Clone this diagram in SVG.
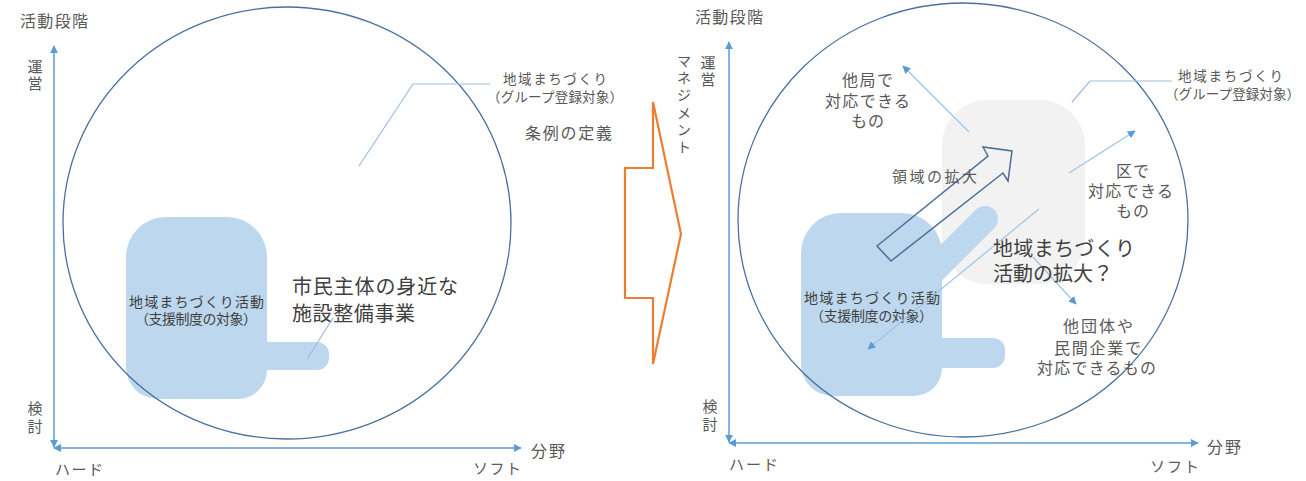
<svg xmlns="http://www.w3.org/2000/svg" width="1306" height="481" viewBox="0 0 1306 481">
<style>
text{font-family:"Noto Sans CJK JP","Noto Sans CJK SC",sans-serif;dominant-baseline:central;fill:#595959}
.s13{font-size:13.5px}.s14{font-size:14px}.s15{font-size:15px}.s16{font-size:16px}.s20{font-size:20px;fill:#404040}
.dk{fill:#404040}
.mid{text-anchor:middle}
.axis{stroke:#5B9BD5;stroke-width:1.5;fill:none}
.ell{stroke:#4A70A0;stroke-width:1.3;fill:none}
.lead{stroke:#9DBDE0;stroke-width:1.2;fill:none}
.conn{stroke:#9DC3E6;stroke-width:1.2;fill:none}
.blob{fill:#BDD7EE}
</style>
<defs>
<marker id="ah" viewBox="0 0 10 10" refX="9" refY="5" markerWidth="8" markerHeight="8" markerUnits="userSpaceOnUse" orient="auto-start-reverse"><path d="M0,0 L10,5 L0,10 Z" fill="#5B9BD5"/></marker>
<marker id="ahs" viewBox="0 0 10 10" refX="9" refY="5" markerWidth="8" markerHeight="8" markerUnits="userSpaceOnUse" orient="auto"><path d="M0,0 L10,5 L0,10 Z" fill="#5B9BD5"/></marker>
</defs>

<!-- LEFT PANEL -->
<g id="left-shapes">
<path class="blob" d="M126,257 A40,40 0 0 1 166,217 L227,217 A40,40 0 0 1 267,257 L267,342 L317,342 A12,12 0 0 1 329,354 L329,358 A12,12 0 0 1 317,370 L267,370 A29,29 0 0 1 238,399 L158,399 A32,32 0 0 1 126,367 Z"/>
<ellipse class="ell" cx="287" cy="223" rx="224" ry="216"/>
</g>
<g id="left-axes">
<line class="axis" x1="54" y1="447" x2="54" y2="46" marker-start="url(#ah)" marker-end="url(#ah)"/>
<line class="axis" x1="54" y1="448" x2="521" y2="448" marker-start="url(#ah)" marker-end="url(#ah)"/>
</g>
<g id="left-labels">
<text class="s16" x="20" y="20" textLength="68">活動段階</text>
<text class="s15 mid" x="35" y="65">運</text>
<text class="s15 mid" x="35" y="82">営</text>
<text class="s15 mid" x="35" y="407">検</text>
<text class="s15 mid" x="35" y="425">討</text>
<text class="s16" x="531" y="450" textLength="34">分野</text>
<text class="s15" x="55" y="468" textLength="48">ハード</text>
<text class="s15" x="473" y="467" textLength="48">ソフト</text>
</g>
<g id="left-group-label">
<text class="s13" x="503" y="78" textLength="104">地域まちづくり</text>
<text class="s13" x="487" y="96" textLength="136">（グループ登録対象）</text>
<text class="s16" x="525" y="132" textLength="87">条例の定義</text>
</g>
<g id="left-support">
<text class="s14 dk" x="129" y="301" textLength="135">地域まちづくり活動</text>
<text class="s14 dk" x="135" y="318" textLength="122">（支援制度の対象）</text>
</g>
<g id="left-citizen">
<text class="s20" x="292" y="285" textLength="166">市民主体の身近な</text>
<text class="s20" x="292" y="312" textLength="123">施設整備事業</text>
</g>
<g id="left-connectors">
<polyline class="lead" points="490,84 413,84 359,166"/>
<line class="lead" x1="307" y1="359" x2="333" y2="318"/>
</g>

<!-- TRANSITION ARROW -->
<g id="transition">
<polygon points="625,168 653,168 653,102 681,234 653,364 653,298 625,298" fill="none" stroke="#ED7D31" stroke-width="2.2" stroke-linejoin="miter"/>
</g>

<!-- RIGHT PANEL -->
<g id="right-shapes">
<rect x="942" y="100" width="143" height="184" rx="45" ry="45" fill="#F2F2F2"/>
<line x1="932" y1="272" x2="985" y2="219" stroke="#BDD7EE" stroke-width="26" stroke-linecap="round"/>
<path class="blob" d="M801,253 A40,40 0 0 1 841,213 L902,213 A40,40 0 0 1 942,253 L942,338 L993,338 A12,12 0 0 1 1005,350 L1005,356 A12,12 0 0 1 993,368 L942,368 A28,28 0 0 1 914,396 L833,396 A32,32 0 0 1 801,364 Z"/>
<ellipse class="ell" cx="963" cy="220" rx="225" ry="217"/>
</g>
<g id="right-axes">
<line class="axis" x1="729" y1="442" x2="729" y2="42" marker-start="url(#ah)" marker-end="url(#ah)"/>
<line class="axis" x1="729" y1="443" x2="1198" y2="443" marker-start="url(#ah)" marker-end="url(#ah)"/>
</g>
<g id="right-labels">
<text class="s16" x="695" y="16" textLength="68">活動段階</text>
<text class="s15 mid" x="708" y="61">運</text>
<text class="s15 mid" x="708" y="78">営</text>
<text class="s14 mid" x="684" y="60">マ</text>
<text class="s14 mid" x="684" y="77">ネ</text>
<text class="s14 mid" x="684" y="94">ジ</text>
<text class="s14 mid" x="684" y="112">メ</text>
<text class="s14 mid" x="684" y="129">ン</text>
<text class="s14 mid" x="684" y="146">ト</text>
<text class="s15 mid" x="710" y="405">検</text>
<text class="s15 mid" x="710" y="423">討</text>
<text class="s16" x="1207" y="446" textLength="34">分野</text>
<text class="s15" x="729" y="463" textLength="49">ハード</text>
<text class="s15" x="1150" y="465" textLength="49">ソフト</text>
</g>
<g id="right-group-label">
<text class="s13" x="1178" y="75" textLength="105">地域まちづくり</text>
<text class="s13" x="1165" y="93" textLength="135">（グループ登録対象）</text>
</g>
<g id="other-bureau">
<text class="s16" x="842" y="79" textLength="51">他局で</text>
<text class="s16" x="825" y="100" textLength="85">対応できる</text>
<text class="s16" x="851" y="120" textLength="33">もの</text>
</g>
<g id="ward">
<text class="s16" x="1116" y="170" textLength="33">区で</text>
<text class="s16" x="1088" y="190" textLength="85">対応できる</text>
<text class="s16" x="1116" y="210" textLength="33">もの</text>
</g>
<g id="expansion-arrow">
<polygon points="877,246 988,156 983,147 1012,151 1008,181 1003,173 891,261" fill="none" stroke="#4A6E9A" stroke-width="1.5" stroke-linejoin="miter"/>
<text class="s15" x="892" y="175" textLength="85">領域の拡大</text>
</g>
<g id="right-support">
<text class="s14 dk" x="804" y="297" textLength="136">地域まちづくり活動</text>
<text class="s14 dk" x="810" y="315" textLength="123">（支援制度の対象）</text>
</g>
<g id="others">
<text class="s16" x="1063" y="325" textLength="70">他団体や</text>
<text class="s16" x="1054" y="347" textLength="87">民間企業で</text>
<text class="s16" x="1037" y="367" textLength="119">対応できるもの</text>
</g>
<g id="right-connectors">
<polyline class="lead" points="1172,81 1090,81 1072,102"/>
<line class="conn" x1="969" y1="132" x2="903" y2="66" marker-end="url(#ahs)"/>
<line class="conn" x1="1069" y1="173" x2="1135" y2="131" marker-end="url(#ahs)"/>
<line class="conn" x1="1039" y1="209" x2="868" y2="349" marker-end="url(#ahs)"/>
<line class="conn" x1="1033" y1="257" x2="1076" y2="304" marker-end="url(#ahs)"/>
</g>
<g id="question">
<text class="s20" x="993" y="247" textLength="142">地域まちづくり</text>
<text class="s20" x="993" y="272" textLength="120">活動の拡大？</text>
</g>
</svg>
